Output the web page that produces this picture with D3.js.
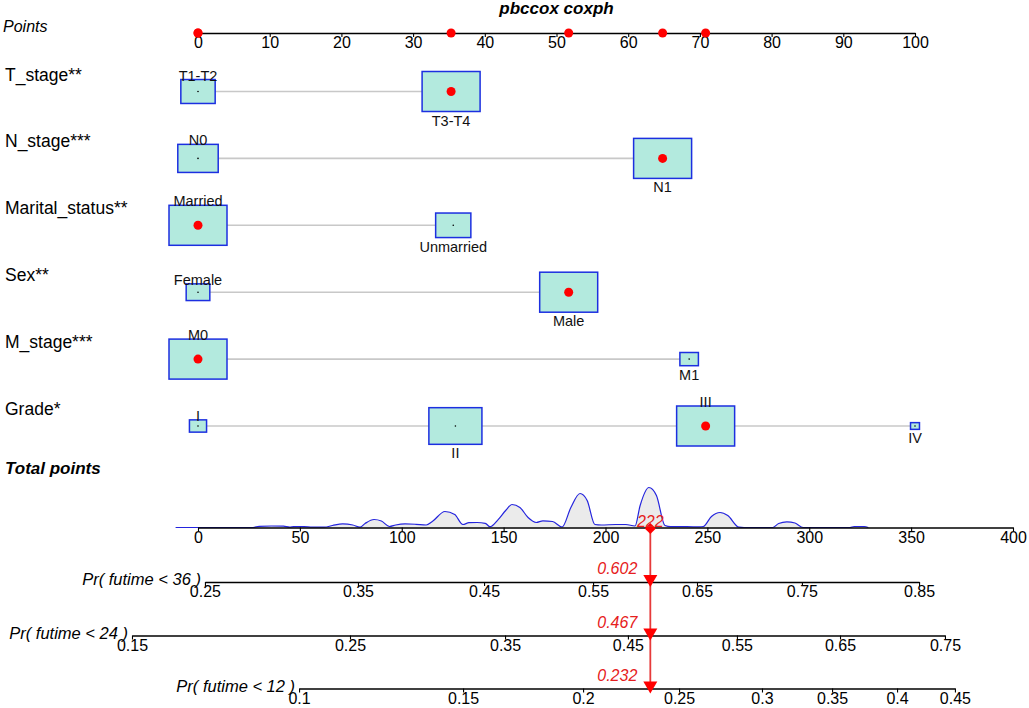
<!DOCTYPE html>
<html>
<head>
<meta charset="utf-8">
<script src="https://cdn.jsdelivr.net/npm/d3@7"></script>
<style>
  body { margin: 0; background: #fff; }
  text { font-family: "Liberation Sans", Arial, sans-serif; }
</style>
</head>
<body>
<div id="nomo"></div>
<script>
// data
var pointTicks = [0, 10, 20, 30, 40, 50, 60, 70, 80, 90, 100];
var totalTicks = [0, 50, 100, 150, 200, 250, 300, 350, 400];

var variables = ["T_stage", "N_stage", "Marital_status", "Sex", "M_stage", "Grade"];
var stars = ["**", "***", "**", "**", "***", "*"];
var levels = [
    ["T1-T2", "T3-T4"],
    ["N0", "N1"],
    ["Married", "Unmarried"],
    ["Female", "Male"],
    ["M0", "M1"],
    ["I", "II", "III", "IV"]
];
var levelPoints = [
    [0, 35.3],
    [0, 64.8],
    [0, 35.6],
    [0, 51.7],
    [0, 68.5],
    [0, 35.9, 70.8, 100]
];
var levelFreq = [
    [0.25, 0.75],
    [0.32, 0.68],
    [0.74, 0.26],
    [0.13, 0.87],
    [0.92, 0.08],
    [0.038, 0.433, 0.521, 0.008]
];
// level index of the patient shown in red
var selected = [1, 1, 0, 1, 0, 2];
var patientTotal = 222;

var probLabels = ["Pr( futime < 36 )", "Pr( futime < 24 )", "Pr( futime < 12 )"];
var probTicks = [
    [0.25, 0.35, 0.45, 0.55, 0.65, 0.75, 0.85],
    [0.15, 0.25, 0.35, 0.45, 0.55, 0.65, 0.75],
    [0.1, 0.15, 0.2, 0.25, 0.3, 0.35, 0.4, 0.45]
];
// total points at which each probability tick sits
var probTickPoints = [
    [3.4, 78.5, 140.4, 193.9, 244.9, 296.4, 353.9],
    [-32.4, 74.6, 150.7, 211.0, 264.5, 315.1, 366.6],
    [49.6, 130.1, 189.0, 236.1, 276.8, 311.2, 343.1, 371.5]
];
var patientProb = [0.602, 0.467, 0.232];

// density of total points (relative height)
var densityX = [-11, 27, 30, 36, 42, 45, 47, 52, 56, 62, 66, 71, 76, 79.5, 82, 86.4, 90, 94, 97, 101.6,
    107, 112, 115, 121.2, 126, 130, 133, 137, 141, 143.3, 147.2, 151, 154.1, 158, 162, 166, 169.3, 174,
    178.7, 183, 187.5, 191, 194.8, 198, 205, 210, 214.5, 217, 221.3, 225, 229.2, 232, 240, 246, 248,
    252, 256.2, 260, 265.5, 268, 282, 285, 289, 293, 297, 320, 322, 327, 329];
var densityY = [0, 0, 1.2, 1.5, 1.3, 0.3, 0.8, 0.9, 0.3, 0.3, 2, 3.7, 2.5, 0.3, 4, 8, 6.5, 1, 2.5, 3.6,
    3.2, 2.5, 6, 16, 13, 3, 4.8, 5, 4.2, 0.8, 7.7, 17, 23, 20, 10, 5, 6.7, 6,
    0.5, 20, 34, 27, 3, 2.5, 3, 3, 1.5, 22, 40, 32, 2, 0.8, 0.8, 0.6, 1,
    11, 15, 12, 0.3, 0, 0, 4, 5.7, 4.5, 0, 0, 1, 1, 0];

var width = 1029;
var height = 708;
var font = "Liberation Sans, Arial, sans-serif";

var svg = d3.select("#nomo")
    .append("svg")
    .attr("width", width)
    .attr("height", height);

var pts = d3.scaleLinear().domain([0, 100]).range([198, 915]);
var tot = d3.scaleLinear().domain([0, 400]).range([198, 1013]);
var rowY = d3.scalePoint().domain(variables).range([91.5, 426]);
var boxW = d3.scaleSqrt().domain([0, 1]).range([2, 58]);
var boxH = d3.scaleSqrt().domain([0, 1]).range([2, 40]);

function styleAxis(g) {
    g.attr("font-size", 16).attr("font-family", font);
    g.select(".domain").attr("stroke-width", 1.3);
    g.selectAll(".tick line").attr("stroke-width", 1.1);
}

// title
svg.append("text")
    .attr("x", (pts(0) + pts(100)) / 2)
    .attr("y", 14)
    .attr("text-anchor", "middle")
    .attr("font-size", 17)
    .attr("font-weight", "bold")
    .attr("font-style", "italic")
    .text("pbccox coxph");

// points axis
var pointsY = 33;
svg.append("text")
    .attr("x", 3).attr("y", 32)
    .attr("font-size", 16)
    .attr("font-style", "italic")
    .text("Points");

svg.append("g")
    .attr("transform", "translate(0," + pointsY + ")")
    .call(d3.axisBottom(pts).tickValues(pointTicks).tickSize(4).tickSizeOuter(0).tickPadding(0))
    .call(styleAxis);

svg.append("g").selectAll("circle")
    .data(selected.map((s, i) => levelPoints[i][s]))
    .enter()
    .append("circle")
    .attr("cx", d => pts(d))
    .attr("cy", pointsY)
    .attr("r", 4.5)
    .attr("fill", "red");

// one row per variable
variables.forEach(function (v, i) {
    var y = rowY(v);
    var row = svg.append("g");
    var maxF = d3.max(levelFreq[i]);
    var lv = levels[i].map(function (name, j) {
        var r = levelFreq[i][j] / maxF;
        return { name: name, p: levelPoints[i][j], w: boxW(r), h: boxH(r), j: j, sel: j === selected[i] };
    });

    row.append("text")
        .attr("x", 5).attr("y", y - 11)
        .attr("font-size", 17.5)
        .text(v + stars[i]);

    row.append("line")
        .attr("x1", pts(d3.min(levelPoints[i])))
        .attr("x2", pts(d3.max(levelPoints[i])))
        .attr("y1", y).attr("y2", y)
        .attr("stroke", "#c8c8c8")
        .attr("stroke-width", 1.6);

    row.selectAll("rect")
        .data(lv)
        .enter()
        .append("rect")
        .attr("x", d => pts(d.p) - d.w / 2)
        .attr("y", d => y - d.h / 2)
        .attr("width", d => d.w)
        .attr("height", d => d.h)
        .attr("fill", "#b3eade")
        .attr("stroke", "#1c2fe0")
        .attr("stroke-width", 1.5);

    row.selectAll("circle")
        .data(lv)
        .enter()
        .append("circle")
        .attr("cx", d => pts(d.p))
        .attr("cy", y)
        .attr("r", d => d.sel ? 4.5 : 0.8)
        .attr("fill", d => d.sel ? "red" : "#000");

    // labels alternate above / below the boxes
    row.selectAll("text.lvl")
        .data(lv)
        .enter()
        .append("text")
        .attr("class", "lvl")
        .attr("x", d => pts(d.p))
        .attr("y", d => d.j % 2 === 0 ? y - d.h / 2 + 1 : y + d.h / 2 + 14)
        .attr("text-anchor", "middle")
        .attr("font-size", 14.5)
        .attr("fill", "#111")
        .text(d => d.name);
});

// total points with density
var totalY = 527.5;
svg.append("text")
    .attr("x", 5).attr("y", 474)
    .attr("font-size", 17)
    .attr("font-weight", "bold")
    .attr("font-style", "italic")
    .text("Total points");

var dens = d3.scaleLinear().domain([0, 40]).range([totalY, totalY - 40]);
var area = d3.area()
    .x((d, k) => tot(densityX[k]))
    .y0(totalY)
    .y1(d => dens(d))
    .curve(d3.curveMonotoneX);
var line = d3.line()
    .x((d, k) => tot(densityX[k]))
    .y(d => dens(d))
    .curve(d3.curveMonotoneX);

svg.append("path")
    .datum(densityY)
    .attr("d", area)
    .attr("fill", "#ebebeb");
svg.append("path")
    .datum(densityY)
    .attr("d", line)
    .attr("fill", "none")
    .attr("stroke", "#2424dd")
    .attr("stroke-width", 1.2);

svg.append("g")
    .attr("transform", "translate(0," + totalY + ")")
    .call(d3.axisBottom(tot).tickValues(totalTicks).tickSize(4).tickSizeOuter(0).tickPadding(0))
    .call(styleAxis);

// probability axes
var probY = [582, 635.5, 688.5];
var px = tot(patientTotal);

svg.append("line")
    .attr("x1", px).attr("x2", px)
    .attr("y1", totalY).attr("y2", probY[2])
    .attr("stroke", "#e63a3a")
    .attr("stroke-width", 1.8);

probLabels.forEach(function (lab, i) {
    var sc = d3.scaleLinear()
        .domain(probTicks[i])
        .range(probTickPoints[i].map(tot));
    svg.append("g")
        .attr("transform", "translate(0," + probY[i] + ")")
        .call(d3.axisBottom(sc).tickValues(probTicks[i]).tickFormat(d => String(d))
            .tickSize(4).tickSizeOuter(0).tickPadding(0))
        .call(styleAxis);

    svg.append("text")
        .attr("x", sc.range()[0] - 4)
        .attr("y", probY[i] + 3)
        .attr("text-anchor", "end")
        .attr("font-size", 16.5)
        .attr("font-style", "italic")
        .text(lab);

    svg.append("path")
        .attr("d", d3.symbol(d3.symbolTriangle, 85)())
        .attr("transform", "translate(" + px + "," + (probY[i] - 3) + ") rotate(180)")
        .attr("fill", "red");

    svg.append("text")
        .attr("x", px - 13)
        .attr("y", probY[i] - 8)
        .attr("text-anchor", "end")
        .attr("font-size", 16)
        .attr("font-style", "italic")
        .attr("fill", "#e62020")
        .text(patientProb[i].toFixed(3));
});

// patient marker on total points
svg.append("path")
    .attr("d", d3.symbol(d3.symbolSquare, 62)())
    .attr("transform", "translate(" + px + "," + (totalY + 1) + ") rotate(45)")
    .attr("fill", "red");
svg.append("text")
    .attr("x", px)
    .attr("y", totalY - 1)
    .attr("text-anchor", "middle")
    .attr("font-size", 16)
    .attr("font-style", "italic")
    .attr("fill", "#e62020")
    .text(patientTotal);
</script>
</body>
</html>
